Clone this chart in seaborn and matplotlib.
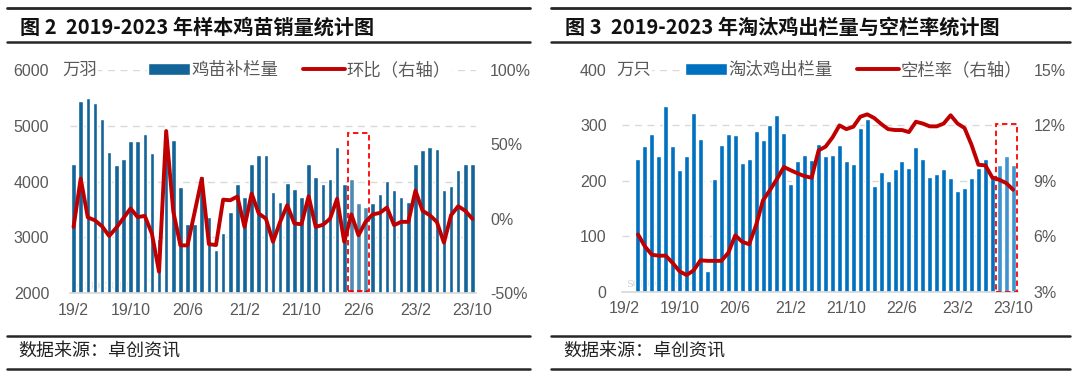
import numpy as np
import pandas as pd
import seaborn as sns
import matplotlib.pyplot as plt
from matplotlib.patches import Rectangle, Patch
from matplotlib.lines import Line2D

# 图2：样本鸡苗销量（万羽）及环比（%），2019/2-2023/10
chick_months = [f"{p.year % 100}/{p.month}" for p in pd.period_range("2019-02", "2023-10", freq="M")]
chick_sales = [4320, 5450, 5490, 5400, 5120, 4540, 4290, 4400, 4730, 4730,
               4850, 4510, 2980, 4700, 4750, 3900, 3250, 3250, 4110, 3370,
               2770, 3080, 3450, 3950, 3730, 4310, 4470, 4470, 3820, 3640,
               3980, 3860, 3730, 4310, 4080, 3950, 4050, 4620, 3950, 4050,
               3610, 3540, 3610, 3770, 4010, 3850, 3730, 3640, 4310, 4560,
               4620, 4590, 3850, 3920, 4200, 4310, 4310]
chick_mom = [-5.5, 27, 1, -1, -5, -11.5, -6, 0.5, 7, 1.2,
             2, -10, -35.5, 59, 5, -17.8, -17.8, 4.5, 27, -17,
             -17.6, 12.9, 12.5, 15, -5.4, 17, 3.6, 0.2, -15.4, -2,
             9.2, -3.1, -3.6, 15.2, -5.4, -4, 0, 13.5, -15.4, 3,
             -11, -2, 3, 4, 7.6, -4.2, -2, -2, 19, 5.4,
             2.5, -2, -16, 2.5, 8.5, 5.4, 0]

# 图3：淘汰鸡出栏量（万只）及空栏率（%），2019/4-2023/10
cull_months = [f"{p.year % 100}/{p.month}" for p in pd.period_range("2019-04", "2023-10", freq="M")]
cull_volume = [240, 262, 285, 245, 335, 262, 220, 245, 323, 275,
               38, 203, 265, 284, 283, 232, 240, 290, 274, 300,
               319, 287, 195, 235, 246, 238, 266, 245, 247, 264,
               236, 230, 295, 312, 191, 216, 200, 222, 236, 224,
               261, 239, 207, 213, 222, 205, 182, 188, 205, 223,
               239, 211, 228, 244, 228]
vacancy_rate = [6.1, 5.45, 5.0, 4.95, 4.95, 4.55, 4.1, 3.9, 4.15, 4.7,
                4.67, 4.67, 4.67, 5.1, 6.05, 5.7, 5.57, 6.6, 7.95, 8.5,
                9.1, 9.75, 9.57, 9.4, 9.25, 9.17, 10.65, 10.85, 11.35, 12.0,
                11.8, 11.93, 12.47, 12.6, 12.4, 12.08, 11.8, 11.75, 11.75, 11.64,
                12.2, 12.1, 11.95, 11.95, 12.1, 12.55, 12.1, 11.86, 10.96, 9.87,
                9.84, 9.18, 9.06, 8.88, 8.52]

tick_labels = ["19/2", "19/10", "20/6", "21/2", "21/10", "22/6", "23/2", "23/10"]

# 红色虚线框标注区间
chick_box = ("22/5", "22/7", 2050, 4880)
cull_box = ("23/8", "23/10", 0, 302)

BLUE_L = "#136499"
BLUE_R = "#0070C0"
RED = "#C00000"
GREY = "#595959"
GRID = "#D9D9D9"

sns.set_theme(style="white")
plt.rcParams["font.family"] = ["Noto Sans CJK SC", "DejaVu Sans"]
TICK_FONT = ["Liberation Sans Narrow", "Liberation Sans", "DejaVu Sans"]

W, H = 1075, 373
fig = plt.figure(figsize=(W / 100, H / 100), dpi=100)


def fx(px):
    return px / W


def fy(py):
    return 1 - py / H


def month_pos(label, first):
    yy, mm = label.split("/")
    return (pd.Period(f"20{yy}-{int(mm):02d}", freq="M") - pd.Period(first, freq="M")).n


def panel(x0, x1, title, src_x):
    for y, lw in [(8, 2.0), (42, 1.8), (336, 1.8), (369, 1.8)]:
        fig.add_artist(Line2D([fx(x0), fx(x1)], [fy(y), fy(y)], color="#262626", lw=lw))
    fig.text(fx(src_x), fy(27), title, fontsize=14.5, fontweight="bold", color="#111111", va="center")
    fig.text(fx(src_x - 2), fy(352), "数据来源：卓创资讯", fontsize=13, color="#222222", va="center")


def style_axes(ax, ax2, ylim, yticks, ylim2, yticks2, pad_l, pad_r):
    ax.set_ylim(*ylim)
    ax.set_yticks(yticks)
    ax2.set_ylim(*ylim2)
    ax2.set_yticks(yticks2)
    ax2.set_yticklabels([f"{v:g}%" for v in yticks2])
    ax.yaxis.grid(True, color=GRID, linestyle=(0, (5, 4)), linewidth=1.0)
    ax.set_axisbelow(True)
    for a in (ax, ax2):
        for s in a.spines.values():
            s.set_visible(False)
        a.set_xlabel("")
        a.set_ylabel("")
    ax.spines["bottom"].set_visible(True)
    ax.spines["bottom"].set_color(GRID)
    ax.tick_params(axis="y", length=0, pad=pad_l, labelcolor=GREY, labelsize=11.5)
    ax2.tick_params(axis="y", length=0, pad=pad_r, labelcolor=GREY, labelsize=11.5)
    ax.tick_params(axis="x", length=0, pad=7, labelcolor=GREY, labelsize=11.5)
    for lab in ax.get_yticklabels() + ax2.get_yticklabels() + ax.get_xticklabels():
        lab.set_family(TICK_FONT)


# ---------- 图2 ----------
panel(7, 530, "图 2  2019-2023 年样本鸡苗销量统计图", 20)
ax = fig.add_axes([fx(70), fy(293.3), fx(406), (293.3 - 70) / H])
sns.barplot(x=chick_months, y=chick_sales, order=chick_months, color=BLUE_L,
            saturation=1, width=0.64, ax=ax)
ax2 = ax.twinx()
sns.lineplot(x=np.arange(len(chick_months)), y=chick_mom, color=RED, linewidth=2.8, ax=ax2)
ax.set_xlim(-0.5, len(chick_months) - 0.5)
ax.set_xticks([chick_months.index(t) for t in tick_labels])
ax.set_xticklabels(tick_labels)
style_axes(ax, ax2, (2000, 6000), range(2000, 6001, 1000), (-50, 100), [-50, 0, 50, 100], 15, 10)

b0 = chick_months.index(chick_box[0]) - 0.5
b1 = chick_months.index(chick_box[1]) + 0.5
ax.add_patch(Rectangle((b0, chick_box[2]), b1 - b0, chick_box[3] - chick_box[2], facecolor=(1, 1, 1, 0.25),
                       edgecolor="#FF0000", linestyle=(0, (3, 2)), linewidth=1.3, zorder=5))
ax.text(-0.02, 1.0, "万羽", transform=ax.transAxes, fontsize=12.5, color=GREY, va="center", ha="left",
        bbox=dict(facecolor="white", edgecolor="none", pad=1))
ax.text(0.0, 0.02, "SCI99.COM", transform=ax.transAxes, fontsize=7, color="#D0D0D0",
        family="DejaVu Serif", zorder=0)
handles = [Patch(facecolor=BLUE_L), Line2D([], [], color=RED, lw=2.8)]
ax2.legend(handles, ["鸡苗补栏量", "环比（右轴）"], loc="center", bbox_to_anchor=(0.565, 1.0), ncol=2,
           frameon=True, facecolor="white", edgecolor="none", framealpha=1, borderpad=0.1,
           fontsize=12.5, handlelength=2.4, handletextpad=0.1, columnspacing=1.4, labelcolor=GREY)

# ---------- 图3 ----------
panel(551, 1070, "图 3  2019-2023 年淘汰鸡出栏量与空栏率统计图", 565)
ax = fig.add_axes([fx(622), fy(291.7), fx(396), (291.7 - 70) / H])
sns.barplot(x=cull_months, y=cull_volume, order=cull_months, color=BLUE_R,
            saturation=1, width=0.72, ax=ax)
ax2 = ax.twinx()
sns.lineplot(x=np.arange(len(cull_months)), y=vacancy_rate, color=RED, linewidth=2.8, ax=ax2)
ax.set_xlim(-2.3, len(cull_months) - 0.3)
ax.set_xticks([month_pos(t, "2019-04") for t in tick_labels])
ax.set_xticklabels(tick_labels)
style_axes(ax, ax2, (0, 400), range(0, 401, 100), (3, 15), [3, 6, 9, 12, 15], 11, 11)

b0 = cull_months.index(cull_box[0]) - 0.5
b1 = cull_months.index(cull_box[1]) + 0.5
ax.add_patch(Rectangle((b0, cull_box[2]), b1 - b0, cull_box[3] - cull_box[2], facecolor=(1, 1, 1, 0.25),
                       edgecolor="#FF0000", linestyle=(0, (3, 2)), linewidth=1.3, zorder=5))
ax.text(-0.015, 1.0, "万只", transform=ax.transAxes, fontsize=12.5, color=GREY, va="center", ha="left",
        bbox=dict(facecolor="white", edgecolor="none", pad=1))
ax.text(0.01, 0.02, "SCI99.COM", transform=ax.transAxes, fontsize=7, color="#D0D0D0",
        family="DejaVu Serif", zorder=0)
handles = [Patch(facecolor=BLUE_R), Line2D([], [], color=RED, lw=2.8)]
ax2.legend(handles, ["淘汰鸡出栏量", "空栏率（右轴）"], loc="center", bbox_to_anchor=(0.585, 1.0), ncol=2,
           frameon=True, facecolor="white", edgecolor="none", framealpha=1, borderpad=0.1,
           fontsize=12.5, handlelength=2.4, handletextpad=0.1, columnspacing=1.4, labelcolor=GREY)

fig.savefig("out.png", dpi=100)
